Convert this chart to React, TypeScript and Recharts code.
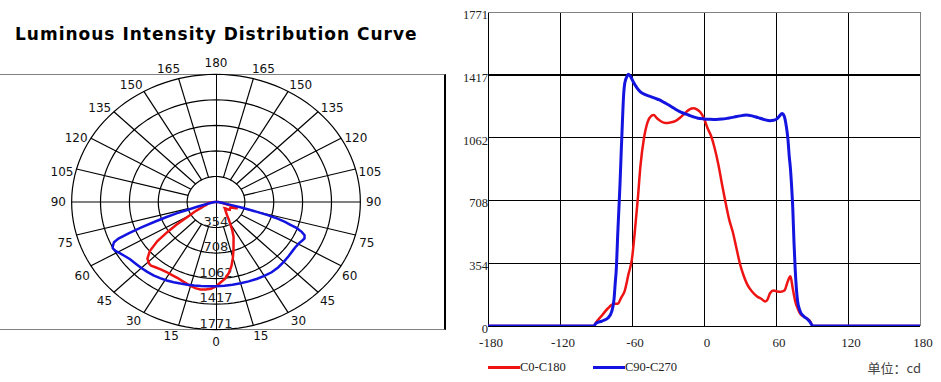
import React from "react";
import {
  LineChart,
  Line,
  XAxis,
  YAxis,
  ReferenceLine,
  Legend,
  ScatterChart,
  Scatter,
} from "recharts";

// ring values (cd) and angle labels of the polar plot
const ringValues = [354, 708, 1062, 1417, 1771];
const angleLabels = [0, 15, 30, 45, 60, 75, 90, 105, 120, 135, 150, 165, 180];
const spokeAngles = [15, 30, 45, 60, 75, 105, 120, 135, 150, 165];

// linear chart ticks
const xTicks = [-180, -120, -60, 0, 60, 120, 180];
const yTicks = [0, 354, 708, 1062, 1417, 1771];

// C0-C180 (red)
const c0Angles = [
  -180, -92, -90, -85, -80, -75, -72, -69, -66, -63, -60, -57, -55, -53, -50, -47, -44, -42, -39, -36,
  -32, -28, -24, -20, -16, -12, -9, -6, -3, 0, 3, 6, 9, 12, 15, 18, 21, 24, 27, 30, 33, 36, 40, 44, 48,
  51, 53, 55, 58, 61, 64, 67, 70, 72, 74, 76, 78, 80, 84, 88, 91, 180,
];
const c0Values = [
  0, 0, 20, 60, 100, 125, 125, 160, 200, 290, 380, 580, 730, 900, 1060, 1150, 1185, 1190, 1170, 1155,
  1145, 1148, 1155, 1175, 1200, 1222, 1228, 1222, 1205, 1170, 1115, 1070, 1000, 910, 800, 695, 600, 530,
  440, 350, 285, 235, 195, 168, 152, 138, 150, 185, 200, 195, 193, 200, 255, 280, 210, 140, 100, 72, 50,
  30, 0, 0,
];

// C90-C270 (blue)
const c90Angles = [
  -180, -92, -90, -85, -80, -77, -75, -74, -73, -72, -71, -70, -69, -68, -67, -66, -64, -63, -61, -59,
  -56, -53, -49, -45, -41, -37, -33, -29, -25, -21, -17, -13, -9, -5, 0, 5, 10, 15, 20, 25, 30, 35, 40,
  45, 50, 55, 58, 61, 63, 65, 67, 68.5, 70, 71, 72, 73, 74, 75, 76, 77, 78, 80, 83, 86, 88, 91, 180,
];
const c90Values = [
  0, 0, 15, 28, 45, 80, 150, 240, 330, 500, 650, 800, 980, 1150, 1300, 1370, 1410, 1420, 1405, 1378,
  1345, 1320, 1305, 1295, 1285, 1275, 1260, 1245, 1228, 1212, 1200, 1190, 1180, 1172, 1168, 1166, 1165,
  1167, 1172, 1178, 1185, 1190, 1185, 1175, 1165, 1158, 1160, 1170, 1185, 1198, 1180, 1130, 1050, 960,
  890, 790, 660, 470, 320, 210, 140, 85, 55, 40, 25, 0, 0,
];

const RED = "#ee1414";
const BLUE = "#1414e0";
const serif = "'Liberation Serif', 'Noto Sans CJK SC', serif";
const verdana = "'DejaVu Sans', sans-serif";

const c0Data = c0Angles.map((a, i) => ({ angle: a, cd: c0Values[i] }));
const c90Data = c90Angles.map((a, i) => ({ angle: a, cd: c90Values[i] }));

// polar (angle 0 = straight down, negative angles to the left)
const polar = (deg: number, r: number) => {
  const rad = (deg * Math.PI) / 180;
  return { x: r * Math.sin(rad), y: -r * Math.cos(rad) };
};

const polarC0 = c0Data.map((d) => polar(d.angle, d.cd));
const polarC90 = c90Data.map((d) => polar(d.angle, d.cd));

const ellipse = (r: number) => {
  const pts = [];
  for (let a = 0; a <= 360; a += 3) pts.push(polar(a, r));
  return pts;
};

const spokes = spokeAngles.flatMap((a) => [a, -a]).map((a) => [polar(a, 354), polar(a, 1771)]);

const labelAngle = (a: number) => {
  const s = Math.abs(a);
  let t = s;
  if (s > 90 && s < 180) t = s - 2.5;
  else if (s >= 60 && s < 90) t = s - 2;
  else if (s > 0 && s < 45) t = s + 1.5;
  return a < 0 ? -t : t;
};

const angleLabelData = angleLabels
  .flatMap((a) => (a === 0 || a === 180 ? [a] : [-a, a]))
  .map((a) => ({ ...polar(labelAngle(a), 1935), label: String(Math.abs(a)) }));

const ringLabelData = ringValues.map((r) => ({ x: 0, y: -r, label: String(r) }));

const Empty = () => <g />;

const AngleLabel = (props: any) => (
  <text
    x={props.cx}
    y={props.cy + 4.4}
    textAnchor="middle"
    fontFamily={verdana}
    fontSize={12}
    fill="#111"
  >
    {props.payload.label}
  </text>
);

const RingLabel = (props: any) => (
  <text
    x={props.cx}
    y={props.cy - 2}
    textAnchor="middle"
    fontFamily={verdana}
    fontSize={13}
    fill="#222"
  >
    {props.payload.label}
  </text>
);

const XTick = (props: any) => (
  <text x={props.x + 3} y={props.y + 21} textAnchor="middle" fontFamily={serif} fontSize={13} fill="#222">
    {props.payload.value}
  </text>
);

const YTick = (props: any) => (
  <text x={props.x} y={props.y + 7} textAnchor="end" fontFamily={serif} fontSize={12.5} fill="#222">
    {props.payload.value}
  </text>
);

const renderLegend = () => (
  <div style={{ position: "relative", width: 481, height: 24, fontFamily: serif, fontSize: 12.5, color: "#222" }}>
    <div style={{ position: "absolute", left: 28, top: 10.5, width: 32, height: 3, background: RED }} />
    <span style={{ position: "absolute", left: 60, top: 0, lineHeight: "24px" }}>C0-C180</span>
    <div style={{ position: "absolute", left: 133, top: 10.5, width: 32, height: 3, background: BLUE }} />
    <span style={{ position: "absolute", left: 165, top: 0, lineHeight: "24px" }}>C90-C270</span>
    <span
      style={{
        position: "absolute",
        right: 20,
        top: 1,
        lineHeight: "24px",
        fontSize: 13,
        fontFamily: "'Noto Sans CJK SC', sans-serif",
        color: "#444",
      }}
    >
      单位：cd
    </span>
  </div>
);

export default function App() {
  return (
    <div style={{ position: "absolute", left: 0, top: 0, width: 941, height: 382, background: "#fff", overflow: "hidden" }}>
      <div
        style={{
          position: "absolute",
          left: 15,
          top: 26,
          fontFamily: verdana,
          fontWeight: "bold",
          fontSize: 17,
          lineHeight: "17px",
          letterSpacing: 1,
          color: "#000",
          whiteSpace: "nowrap",
        }}
      >
        Luminous Intensity Distribution Curve
      </div>

      {/* frame of the polar plot */}
      <div
        style={{
          position: "absolute",
          left: -10,
          top: 74,
          width: 456,
          height: 256,
          boxSizing: "border-box",
          borderTop: "1px solid #808080",
          borderBottom: "1px solid #808080",
          borderRight: "2px solid #000",
        }}
      />

      <div style={{ position: "absolute", left: 0, top: 0 }}>
        <ScatterChart width={460} height={382} margin={{ top: 29, right: 28, bottom: 7, left: 0 }}>
          <XAxis type="number" dataKey="x" domain={[-2650, 2650]} hide allowDataOverflow />
          <YAxis type="number" dataKey="y" domain={[-2400, 2400]} hide allowDataOverflow />
          {spokes.map((s, i) => (
            <ReferenceLine key={`sp${i}`} segment={s} stroke="#000" strokeWidth={1.2} />
          ))}
          <ReferenceLine
            segment={[polar(0, 1771), polar(180, 1771)]}
            stroke="#000"
            strokeWidth={1}
            shapeRendering="crispEdges"
          />
          <ReferenceLine
            segment={[polar(-90, 1771), polar(90, 1771)]}
            stroke="#808080"
            strokeWidth={2}
            shapeRendering="crispEdges"
          />
          {ringValues.map((r) => (
            <Scatter
              key={`ring${r}`}
              data={ellipse(r)}
              line={{ stroke: "#000", strokeWidth: 1.2 }}
              lineType="joint"
              shape={Empty}
              isAnimationActive={false}
            />
          ))}
          <Scatter data={ringLabelData} shape={RingLabel} isAnimationActive={false} />
          <Scatter data={angleLabelData} shape={AngleLabel} isAnimationActive={false} />
          <Scatter
            data={polarC0}
            line={{ stroke: RED, strokeWidth: 2.5 }}
            lineType="joint"
            shape={Empty}
            isAnimationActive={false}
          />
          <Scatter
            data={polarC90}
            line={{ stroke: BLUE, strokeWidth: 2.5 }}
            lineType="joint"
            shape={Empty}
            isAnimationActive={false}
          />
        </ScatterChart>
      </div>

      <div style={{ position: "absolute", left: 460, top: 0 }}>
        <LineChart width={481} height={382} margin={{ top: 12, right: 21, bottom: 0, left: 0 }}>
          <XAxis
            dataKey="angle"
            type="number"
            domain={[-180, 180]}
            ticks={xTicks}
            interval={0}
            height={56}
            tickSize={0}
            tickMargin={0}
            axisLine={false}
            tickLine={false}
            tick={XTick}
            allowDataOverflow
          />
          <YAxis
            type="number"
            domain={[0, 1771]}
            ticks={yTicks}
            interval={0}
            width={28}
            tickSize={0}
            tickMargin={0}
            axisLine={false}
            tickLine={false}
            tick={YTick}
            allowDataOverflow
          />
          {xTicks.map((v) => (
            <ReferenceLine
              key={`x${v}`}
              x={v}
              stroke={v === 180 ? "#808080" : "#000"}
              strokeWidth={1}
              shapeRendering="crispEdges"
            />
          ))}
          {yTicks.map((v) => (
            <ReferenceLine
              key={`y${v}`}
              y={v}
              stroke={v === 1771 ? "#808080" : "#000"}
              strokeWidth={v === 1417 ? 2 : 1}
              shapeRendering="crispEdges"
            />
          ))}
          <Line
            data={c0Data}
            dataKey="cd"
            type="monotone"
            stroke={RED}
            strokeWidth={2.5}
            dot={false}
            isAnimationActive={false}
          />
          <Line
            data={c90Data}
            dataKey="cd"
            type="monotone"
            stroke={BLUE}
            strokeWidth={3}
            dot={false}
            isAnimationActive={false}
          />
          <Legend
            layout="vertical"
            align="center"
            verticalAlign="middle"
            wrapperStyle={{ left: 0, top: 355, width: 481, height: 24 }}
            content={renderLegend}
          />
        </LineChart>
      </div>
    </div>
  );
}
